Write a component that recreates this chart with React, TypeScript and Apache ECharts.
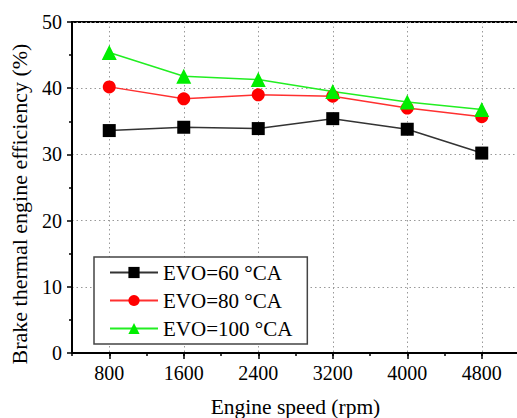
import React, { useEffect, useRef } from "react";
import * as echarts from "echarts";

// Engine speed positions along the x axis (rpm), spaced every 400 rpm
const speedSteps = ["400", "800", "1200", "1600", "2000", "2400", "2800", "3200", "3600", "4000", "4400", "4800", "5200"];
// Measured operating points (rpm)
const speeds = ["800", "1600", "2400", "3200", "4000", "4800"];
// Brake thermal efficiency (%) for each exhaust valve opening timing
const evo60 = [33.6, 34.1, 33.9, 35.4, 33.8, 30.2];
const evo80 = [40.2, 38.4, 39.0, 38.8, 37.0, 35.7];
const evo100 = [45.4, 41.8, 41.3, 39.5, 37.9, 36.8];
const seriesNames = ["EVO=60 °CA", "EVO=80 °CA", "EVO=100 °CA"];

const FONT = "Liberation Serif";

const isMajor = (value: string) => Number(value) % 800 === 0;

export default function App() {
  const ref = useRef<HTMLDivElement>(null);

  useEffect(() => {
    if (!ref.current) return;
    const chart = echarts.init(ref.current, undefined, { renderer: "svg" });

    const pairs = (vals: number[]) => speeds.map((s, i) => [s, vals[i]]);

    const mkSeries = (name: string, vals: number[], color: string, lineColor: string, symbol: string, size: number) => ({
      name,
      type: "line",
      data: pairs(vals),
      symbol,
      symbolSize: size,
      itemStyle: { color },
      lineStyle: { color: lineColor, width: 1.5 },
      xAxisIndex: 0,
      yAxisIndex: 0,
    });

    chart.setOption({
      animation: false,
      backgroundColor: "#fff",
      textStyle: { fontFamily: FONT, color: "#000" },
      grid: {
        left: 72,
        top: 22,
        right: -2,
        bottom: 65,
        outerBoundsMode: "none",
        containLabel: false,
        show: true,
        borderColor: "#000",
        borderWidth: 2,
        backgroundColor: "transparent",
      },
      // vertical axis title
      graphic: [
        {
          type: "text",
          x: 19,
          y: 204,
          rotation: Math.PI / 2,
          style: {
            text: "Brake thermal engine efficiency (%)",
            font: "22px Liberation Serif",
            fill: "#000",
            textAlign: "center",
            textVerticalAlign: "middle",
          },
        },
      ],
      legend: {
        orient: "vertical",
        left: 94,
        top: 257,
        padding: [5, 15, 5, 15],
        itemGap: 7,
        itemWidth: 48,
        itemHeight: 14,
        backgroundColor: "#fff",
        borderColor: "#444",
        borderWidth: 1.5,
        borderRadius: 0,
        data: seriesNames,
        textStyle: { fontFamily: FONT, fontSize: 21, color: "#000" },
      },
      xAxis: [
        {
          type: "category",
          data: speedSteps,
          boundaryGap: false,
          position: "bottom",
          name: "Engine speed (rpm)",
          nameLocation: "middle",
          nameGap: 43,
          nameTextStyle: { fontFamily: FONT, fontSize: 21.5, color: "#000" },
          axisLine: { show: true, lineStyle: { color: "#000", width: 2 } },
          axisTick: { show: true, interval: 0, length: 3, lineStyle: { color: "#000", width: 1.5 } },
          axisLabel: {
            interval: (_i: number, v: string) => isMajor(v),
            margin: 10,
            fontFamily: FONT,
            fontSize: 20,
            color: "#000",
          },
          splitLine: {
            show: true,
            interval: (i: number, v: string) => i > 0 && isMajor(v),
            lineStyle: { color: "#999", type: [1.5, 3], width: 1 },
          },
        },
        {
          type: "category",
          data: speedSteps,
          boundaryGap: false,
          position: "bottom",
          offset: 0,
          axisLine: { show: false },
          axisTick: {
            show: true,
            interval: (_i: number, v: string) => isMajor(v),
            length: 6,
            lineStyle: { color: "#000", width: 1.5 },
          },
          axisLabel: { show: false },
          splitLine: { show: false },
        },
      ],
      yAxis: {
        type: "value",
        min: 0,
        max: 50,
        interval: 10,
        axisLine: { show: true, lineStyle: { color: "#000", width: 2 } },
        axisTick: { show: true, length: 5, lineStyle: { color: "#000", width: 1.5 } },
        minorTick: { show: true, splitNumber: 2, length: 3, lineStyle: { color: "#000", width: 1.5 } },
        axisLabel: { margin: 10, fontFamily: FONT, fontSize: 20, color: "#000" },
        splitLine: { show: true, lineStyle: { color: "#999", type: [1.5, 3], width: 1 } },
      },
      series: [
        mkSeries(seriesNames[0], evo60, "#000", "#333", "rect", 13),
        mkSeries(seriesNames[1], evo80, "#ff0000", "#ff3030", "circle", 13),
        mkSeries(seriesNames[2], evo100, "#00ee00", "#22ee22", "triangle", 15),
      ],
    });

    return () => chart.dispose();
  }, []);

  return (
    <div
      ref={ref}
      style={{ position: "absolute", left: 0, top: 0, width: 517, height: 418 }}
    />
  );
}
